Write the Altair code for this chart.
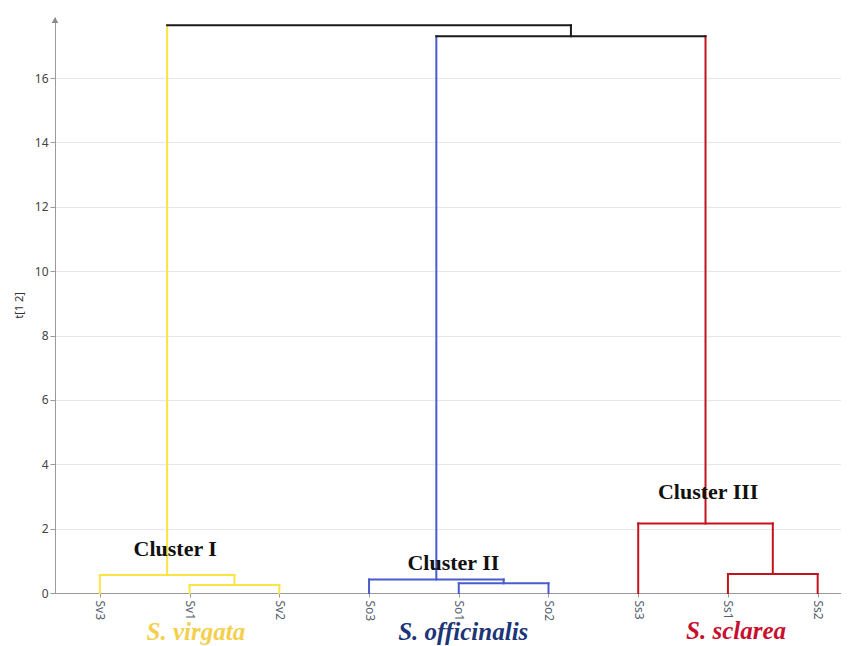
import altair as alt
import pandas as pd

# ---- data ----
leaves = ["Sv3", "Sv1", "Sv2", "So3", "So1", "So2", "Ss3", "Ss1", "Ss2"]
leaf_group = ["virgata"] * 3 + ["officinalis"] * 3 + ["sclarea"] * 3

merge_name = ["A", "B", "C", "D", "E", "F", "G", "H"]
merge_left = ["Sv1", "Sv3", "So1", "So3", "Ss1", "Ss3", "D", "B"]
merge_right = ["Sv2", "A", "So2", "C", "Ss2", "E", "F", "G"]
merge_height = [0.25, 0.56, 0.30, 0.42, 0.59, 2.16, 17.30, 17.64]
merge_group = ["virgata", "virgata", "officinalis", "officinalis",
               "sclarea", "sclarea", "root", "root"]

group_names = ["virgata", "officinalis", "sclarea", "root"]
group_colors = ["#FBE443", "#4A5BCD", "#C3141D", "#1A1A1A"]

cluster_text = ["Cluster I", "Cluster II", "Cluster III"]
cluster_x = [0.84, 3.94, 6.78]
cluster_y = [1.37, 0.93, 3.14]

species_text = ["S. virgata", "S. officinalis", "S. sclarea"]
species_x = [1.07, 4.05, 7.09]
species_y = [-1.21, -1.21, -1.19]
species_colors = ["#F4CF4E", "#1B3577", "#C8102E"]

y_title = "t[1 2]"

# ---- build dendrogram segments from the linkage ----
pos = {name: float(i) for i, name in enumerate(leaves)}
hgt = {name: 0.0 for name in leaves}
grp = dict(zip(leaves, leaf_group))
rows = []
for n, l, r, h, g in zip(merge_name, merge_left, merge_right, merge_height, merge_group):
    xl, xr = pos[l], pos[r]
    rows.append(dict(x=xl, x2=xl, y=hgt[l], y2=h, g=grp[l]))
    rows.append(dict(x=xr, x2=xr, y=hgt[r], y2=h, g=grp[r]))
    rows.append(dict(x=xl, x2=xr, y=h, y2=h, g=g))
    pos[n] = (xl + xr) / 2
    hgt[n] = h
    grp[n] = g
seg = pd.DataFrame(rows)

x_dom = [-0.5, 8.26]
y_dom = [0, 17.9]

label_arr = "[" + ",".join("'%s'" % s for s in leaves) + "]"

xscale = alt.Scale(domain=x_dom, nice=False, zero=False)
yscale = alt.Scale(domain=y_dom, nice=False, zero=False)

lines = alt.Chart(seg).mark_rule(strokeWidth=2, strokeCap="square").encode(
    x=alt.X("x:Q", scale=xscale, title=None,
            axis=alt.Axis(values=list(range(len(leaves))),
                          labelExpr=label_arr + "[datum.value]",
                          labelAngle=90, grid=False, labelFontSize=12,
                          labelColor="#55606E", labelFont="Noto Sans",
                          domainColor="#9A9A9A", tickColor="#9A9A9A",
                          tickSize=4, labelPadding=3)),
    x2="x2:Q",
    y=alt.Y("y:Q", scale=yscale, title=y_title,
            axis=alt.Axis(values=list(range(0, 18)),
                          labelExpr="datum.value % 2 === 0 ? datum.label : ''",
                          gridOpacity={"condition": {"test": "datum.value % 2 === 1", "value": 0}, "value": 1},
                          tickSize={"condition": {"test": "datum.value % 2 === 1", "value": 2}, "value": 5},
                          gridColor="#E6E6E6", domainColor="#9A9A9A",
                          tickColor="#9A9A9A", labelFontSize=12,
                          labelColor="#444444", labelFont="Noto Sans",
                          titleFont="Noto Sans", titleFontSize=11,
                          titleFontWeight="normal", titleColor="#333333",
                          titlePadding=10, labelPadding=2)),
    y2="y2:Q",
    color=alt.Color("g:N", scale=alt.Scale(domain=group_names, range=group_colors), legend=None),
)

arrow = alt.Chart(pd.DataFrame({"x": [x_dom[0]], "y": [y_dom[1] - 0.1]})).mark_point(
    shape="triangle-up", filled=True, size=45, color="#8A8A8A", opacity=1, clip=False
).encode(x=alt.X("x:Q", scale=xscale), y=alt.Y("y:Q", scale=yscale))

clusters = alt.Chart(pd.DataFrame({"t": cluster_text, "x": cluster_x, "y": cluster_y})).mark_text(
    font="Liberation Serif", fontWeight="bold", fontSize=22, color="#111111",
    align="center", baseline="middle"
).encode(x=alt.X("x:Q", scale=xscale), y=alt.Y("y:Q", scale=yscale), text="t:N")

species = alt.Chart(pd.DataFrame({"t": species_text, "x": species_x, "y": species_y})).mark_text(
    font="Liberation Serif", fontStyle="italic", fontWeight="bold", fontSize=25,
    align="center", baseline="middle"
).encode(
    x=alt.X("x:Q", scale=xscale), y=alt.Y("y:Q", scale=yscale), text="t:N",
    color=alt.Color("t:N", scale=alt.Scale(domain=species_text, range=species_colors), legend=None),
)

chart = alt.layer(lines, arrow, clusters, species).resolve_scale(color="independent").properties(
    width=786, height=576,
    autosize=alt.AutoSizeParams(type="none"),
    padding={"left": 47, "top": 9, "right": 0, "bottom": 60},
).configure_view(stroke=None)

chart.save("out.html", embed_options={"renderer": "svg", "actions": False})
